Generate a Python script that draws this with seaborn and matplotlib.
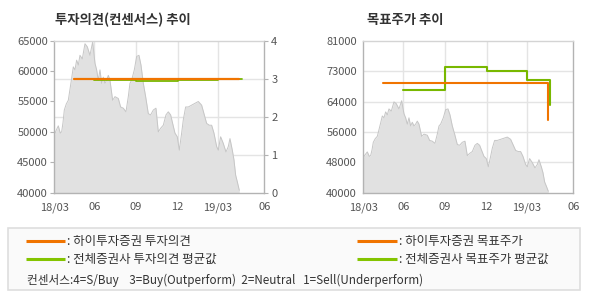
import matplotlib
matplotlib.use("Agg")
import matplotlib.pyplot as plt
import seaborn as sns
import pandas as pd
from matplotlib.lines import Line2D
from matplotlib.patches import Rectangle

# ---------------- data ----------------
day_idx = [0, 3, 6, 9, 11, 13, 15, 18, 21, 23.5, 26, 28.5, 31, 33.5, 36, 38.5, 42, 46, 49.5, 53.5,
           57.5, 61, 63.5, 66, 68.5, 71, 73.5, 76, 78.5, 81, 83.5, 87.5, 91, 96, 99.5, 103.5,
           107.5, 111, 113.5, 116, 120, 123.5, 127, 130, 133.5, 137, 141, 144.5, 148.5, 152.5,
           156, 159.5, 163.5, 167.5, 171, 174.5, 177.5, 181, 184.5, 187.5, 191, 193.5, 197, 201,
           206, 211, 216, 221, 224.5, 228.5, 232.5, 236, 239.5, 243.5, 246, 249.5, 253.5, 257.5,
           261, 263.5, 267, 269.5, 272, 274.5, 277.5]
price = [49500, 50300, 51000, 49800, 50000, 51500, 53600, 54600, 55200, 57000, 58800, 60700, 60200,
         61800, 61000, 62600, 62000, 64500, 64000, 62600, 64800, 61300, 60200, 58500, 60200, 58000,
         59000, 58000, 58500, 59300, 58500, 55200, 55800, 55500, 54100, 53900, 53300, 55800, 58000,
         58500, 60200, 62400, 62600, 61000, 58000, 55800, 53000, 52800, 53600, 53900, 50000, 50600,
         51100, 52800, 53300, 52800, 51400, 49800, 49200, 47000, 49800, 52000, 54100, 54100, 54400,
         54700, 55000, 54400, 53000, 51400, 51100, 51100, 49800, 47600, 47000, 49200, 48100, 46700,
         47600, 48900, 47000, 45400, 42900, 41800, 40400]

x_tick_pos = [0, 60, 122, 185, 245, 315]
x_tick_labels = ["18/03", "06", "09", "12", "19/03", "06"]

# 투자의견 (consensus scale 0-4)
op_hi_x = [29.5, 277.5]
op_hi_y = [3.0, 3.0]
op_all_x = [60, 122, 185, 245, 281]
op_all_y = [2.96, 2.93, 2.96, 3.0, 3.0]

# 목표주가
tp_hi_x = [29.5, 277]
tp_hi_y = [69700, 59600]
tp_all_x = [60, 122.5, 185, 245, 280]
tp_all_y = [67700, 73900, 72900, 70400, 63650]

left_price_ticks = [40000, 45000, 50000, 55000, 60000, 65000]
opinion_ticks = [0, 1, 2, 3, 4]
tp_tick_pos = [40000, 48200, 56400, 64600, 72800, 81000]
tp_tick_labels = ["40000", "48000", "56000", "64000", "73000", "81000"]

titles = ["투자의견(컨센서스) 추이", "목표주가 추이"]
legend_labels = [": 하이투자증권 투자의견", ": 전체증권사 투자의견 평균값",
                 ": 하이투자증권 목표주가", ": 전체증권사 목표주가 평균값"]
consensus_note = "컨센서스:4=S/Buy    3=Buy(Outperform)  2=Neutral   1=Sell(Underperform)"

# ---------------- style ----------------
sns.set_theme(style="white")
plt.rcParams['font.family'] = ['Noto Sans CJK KR', 'DejaVu Sans']
plt.rcParams['axes.unicode_minus'] = False

ORANGE = "#f07400"
GREEN = "#78b800"
LGREEN = "#84c400"
AREA = "#e1e1e1"
AREA_EDGE = "#c6c6c6"
GRID = "#e4e4e4"
SPINE = "#b3b3b3"
TICKC = "#555555"

df_price = pd.DataFrame({"idx": day_idx, "price": price})

fig = plt.figure(figsize=(5.9, 3.0), dpi=100)
W, H = 590, 300


def px_axes(x0, y0, x1, y1):
    return fig.add_axes([x0 / W, 1 - y1 / H, (x1 - x0) / W, (y1 - y0) / H])


def style_axes(ax, ylim, yticks, ylabels):
    ax.set_facecolor("white")
    ax.set_xlim(0, 315)
    ax.set_ylim(*ylim)
    ax.set_xticks(x_tick_pos)
    ax.set_xticklabels(x_tick_labels)
    ax.set_yticks(yticks)
    ax.set_yticklabels(ylabels)
    for s in ["left", "bottom", "right"]:
        ax.spines[s].set_color(SPINE)
        ax.spines[s].set_linewidth(1.0)
    ax.spines["top"].set_color("#d4d4d4")
    ax.spines["top"].set_linewidth(1.0)
    ax.tick_params(axis="x", direction="out", length=5, width=0.8, color=SPINE,
                   labelsize=8, labelcolor=TICKC, pad=2)
    ax.tick_params(axis="y", direction="out", length=3, width=0.8, color=SPINE,
                   labelsize=8, labelcolor=TICKC, pad=1.5)
    ax.set_xlabel("")
    ax.set_ylabel("")


def draw_price(ax, bottom):
    ax.fill_between(df_price["idx"], df_price["price"], bottom, color=AREA, lw=0, zorder=1)
    sns.lineplot(data=df_price, x="idx", y="price", ax=ax, color=AREA_EDGE, lw=0.7,
                 estimator=None, sort=False, zorder=2, legend=False)


# ---------- left chart ----------
axL = px_axes(54.3, 40.7, 264.3, 192.7)
draw_price(axL, 40000)
style_axes(axL, (40000, 65000), left_price_ticks, [str(v) for v in left_price_ticks])
axL.grid(False)
for xp in x_tick_pos[1:-1]:
    axL.axvline(xp, color=GRID, lw=1.0, zorder=0.5)

axR2 = axL.twinx()
axR2.set_ylim(0, 4)
axR2.set_yticks(opinion_ticks)
axR2.set_yticklabels([str(v) for v in opinion_ticks])
for yv in opinion_ticks[1:-1]:
    axL.axhline(40000 + yv * 6250, color=GRID, lw=1.0, zorder=0.5)
sns.lineplot(x=op_all_x, y=op_all_y, ax=axR2, color=GREEN, lw=1.3, estimator=None,
             sort=False, drawstyle="steps-post", legend=False)
sns.lineplot(x=op_hi_x, y=op_hi_y, ax=axR2, color=ORANGE, lw=1.6, estimator=None,
             sort=False, drawstyle="steps-post", legend=False)
axR2.set_ylabel("")
for s in ["left", "bottom", "right", "top"]:
    axR2.spines[s].set_visible(False)
axR2.tick_params(axis="y", direction="out", length=3, width=0.8, color=SPINE,
                 labelsize=8, labelcolor=TICKC, pad=2)
axR2.grid(False)

# ---------- right chart ----------
axT = px_axes(363.3, 40.7, 573.3, 192.7)
draw_price(axT, 40000)
style_axes(axT, (40000, 81000), tp_tick_pos, tp_tick_labels)
axT.grid(False)
for xp in x_tick_pos[1:-1]:
    axT.axvline(xp, color=GRID, lw=1.0, zorder=0.5)
for yp in tp_tick_pos[1:-1]:
    axT.axhline(yp, color=GRID, lw=1.0, zorder=0.5)
sns.lineplot(x=tp_all_x, y=tp_all_y, ax=axT, color=GREEN, lw=1.5, estimator=None,
             sort=False, drawstyle="steps-post", legend=False)
sns.lineplot(x=tp_hi_x, y=tp_hi_y, ax=axT, color=ORANGE, lw=1.5, estimator=None,
             sort=False, drawstyle="steps-post", legend=False)
axT.set_xlabel("")
axT.set_ylabel("")
axT.tick_params(axis="y", right=False)

# ---------- titles ----------
fig.text(55 / W, 1 - 20 / H, titles[0], fontsize=9.6, fontweight="bold", color="#333333",
         va="center", ha="left")
fig.text(367 / W, 1 - 20 / H, titles[1], fontsize=9.6, fontweight="bold", color="#333333",
         va="center", ha="left")

# ---------- legend box ----------
fig.patches.append(Rectangle((8 / W, 1 - 289.5 / H), (579.5 - 8) / W, (289.5 - 228) / H,
                             transform=fig.transFigure, facecolor="#fafafa",
                             edgecolor="#dedede", lw=1.2, zorder=0))


def leg_item(x0, x1, y, color, text):
    fig.add_artist(Line2D([x0 / W, x1 / W], [1 - y / H, 1 - y / H], color=color, lw=2.2,
                          transform=fig.transFigure, solid_capstyle="butt"))
    fig.text((x1 + 2) / W, 1 - y / H, text, fontsize=9, color="#333333",
             va="center", ha="left")


leg_item(26, 65, 241, ORANGE, legend_labels[0])
leg_item(26, 65, 259, LGREEN, legend_labels[1])
leg_item(357, 397, 241, ORANGE, legend_labels[2])
leg_item(357, 397, 259, LGREEN, legend_labels[3])
fig.text(27 / W, 1 - 280 / H, consensus_note, fontsize=8.4, color="#333333",
         va="center", ha="left")

fig.savefig("out.png", dpi=100, facecolor="white")
